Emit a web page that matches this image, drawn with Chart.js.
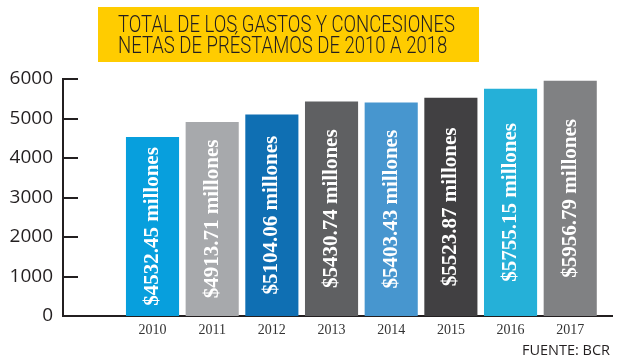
<!DOCTYPE html>
<html><head><meta charset="utf-8">
<script src="https://cdn.jsdelivr.net/npm/chart.js@4/dist/chart.umd.min.js"></script>
<style>html,body{margin:0;padding:0;background:#fff;}canvas{display:block;}</style>
</head><body>
<canvas id="c" width="627" height="360"></canvas>
<script>
const years = ['2010', '2011', '2012', '2013', '2014', '2015', '2016', '2017'];
const values = [4532.45, 4913.71, 5104.06, 5430.74, 5403.43, 5523.87, 5755.15, 5956.79];
const barColors = ['#079fdd', '#a7a9ac', '#0f6fb3', '#5f6062', '#4796cf', '#414042', '#25b0d8', '#808183'];
const yTickValues = [0, 1000, 2000, 3000, 4000, 5000, 6000];
const titleLines = ['TOTAL DE LOS GASTOS Y CONCESIONES', 'NETAS DE PRÉSTAMOS DE 2010 A 2018'];
const sourceText = 'FUENTE: BCR';
const valuePrefix = '$';
const valueUnit = ' millones';

const INK = '#231f20';

const decor = {
  id: 'decor',
  beforeDraw(chart) {
    const ctx = chart.ctx;
    ctx.save();
    ctx.fillStyle = '#fff';
    ctx.fillRect(0, 0, chart.width, chart.height);
    // title box
    ctx.fillStyle = '#ffcc00';
    ctx.fillRect(98, 7, 381, 55);
    ctx.fillStyle = INK;
    ctx.font = '300 23px Roboto';
    ctx.textAlign = 'left';
    ctx.textBaseline = 'alphabetic';
    const sx = 337 / ctx.measureText(titleLines[0]).width;
    titleLines.forEach((t, i) => {
      ctx.save();
      ctx.translate(118, 32 + i * 20.5);
      ctx.scale(sx, 1);
      ctx.fillText(t, 0, 0);
      ctx.restore();
    });
    // source
    ctx.font = '14.5px "Open Sans"';
    ctx.textAlign = 'right';
    ctx.fillText(sourceText, 610, 355);
    ctx.restore();
  },
  afterDatasetsDraw(chart) {
    const ctx = chart.ctx;
    ctx.save();
    const meta = chart.getDatasetMeta(0);
    ctx.fillStyle = '#ffffff';
    ctx.font = 'bold 21px "Liberation Serif"';
    ctx.textAlign = 'center';
    ctx.textBaseline = 'middle';
    meta.data.forEach((bar, i) => {
      ctx.save();
      ctx.translate(bar.x, (bar.y + bar.base) / 2);
      ctx.rotate(-Math.PI / 2);
      ctx.fillText(valuePrefix + values[i].toFixed(2) + valueUnit, 0, 0);
      ctx.restore();
    });
    // inward tick marks on y axis
    const ys = chart.scales.y;
    const left = chart.chartArea.left;
    ctx.strokeStyle = INK;
    ctx.lineWidth = 2;
    ys.ticks.forEach(t => {
      if (t.value === 0) return;
      const y = Math.round(ys.getPixelForValue(t.value));
      ctx.beginPath();
      ctx.moveTo(left, y);
      ctx.lineTo(left + 15, y);
      ctx.stroke();
    });
    ctx.restore();
  }
};

new Chart(document.getElementById('c'), {
  type: 'bar',
  data: {
    datasets: [{
      data: values.map((v, i) => ({ x: i, y: v })),
      backgroundColor: barColors,
      borderWidth: 0,
      barPercentage: 0.89,
      categoryPercentage: 1
    }]
  },
  options: {
    responsive: false,
    animation: false,
    layout: { padding: { top: 79, right: 15, left: 0, bottom: 0 } },
    plugins: { legend: { display: false }, tooltip: { enabled: false }, title: { display: false } },
    scales: {
      x: {
        type: 'linear',
        offset: false,
        min: -1.5,
        max: 7.7,
        afterBuildTicks: s => { s.ticks = years.map((_, i) => ({ value: i })); },
        afterFit: s => { s.height = 44; },
        grid: { display: false, drawTicks: false, offset: false },
        border: { display: true, color: INK, width: 2 },
        ticks: {
          autoSkip: false,
          maxRotation: 0,
          padding: 6,
          color: '#333',
          font: { family: '"Liberation Serif"', size: 14 },
          callback: v => years[v] ?? ''
        }
      },
      y: {
        min: 0,
        max: 6000,
        afterBuildTicks: s => { s.ticks = yTickValues.map(v => ({ value: v })); },
        afterFit: s => { s.width = 63; },
        grid: { display: false, drawTicks: false },
        border: { display: true, color: INK, width: 2 },
        ticks: {
          padding: 10,
          color: INK,
          font: { family: '"Open Sans"', size: 19 },
          callback: v => String(v)
        }
      }
    }
  },
  plugins: [decor]
});
</script>
</body></html>
